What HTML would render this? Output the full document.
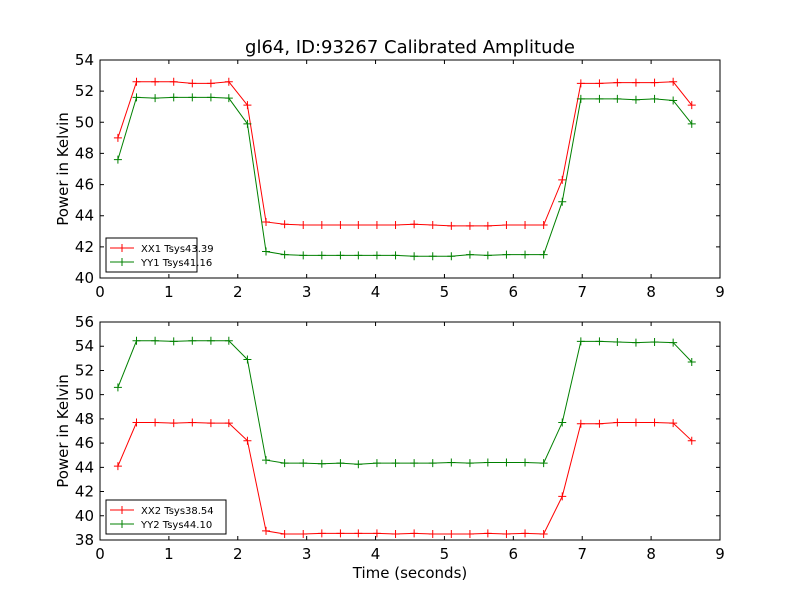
<!DOCTYPE html>
<html><head><meta charset="utf-8"><style>
body{margin:0;background:#fff}
svg text{font-family:"DejaVu Sans","Liberation Sans",sans-serif}
</style></head><body>
<svg id="c" width="800" height="600" xmlns="http://www.w3.org/2000/svg"></svg>
<script>
const times=[0.26,0.53,0.80,1.07,1.34,1.61,1.87,2.14,2.41,2.68,2.95,3.22,3.49,3.75,4.02,4.29,4.56,4.83,5.10,5.37,5.63,5.90,6.17,6.44,6.71,6.98,7.25,7.51,7.78,8.05,8.32,8.59];
const xx1=[49,52.6,52.6,52.6,52.5,52.5,52.6,51.1,43.6,43.45,43.4,43.4,43.4,43.4,43.4,43.4,43.45,43.4,43.35,43.35,43.35,43.4,43.4,43.4,46.3,52.5,52.5,52.55,52.55,52.55,52.6,51.1];
const yy1=[47.6,51.6,51.55,51.6,51.6,51.6,51.55,49.9,41.7,41.5,41.45,41.45,41.45,41.45,41.45,41.45,41.4,41.4,41.4,41.5,41.45,41.5,41.5,41.5,44.9,51.5,51.5,51.5,51.45,51.5,51.4,49.9];
const xx2=[44.1,47.7,47.7,47.65,47.7,47.65,47.65,46.2,38.75,38.5,38.5,38.55,38.55,38.55,38.55,38.5,38.55,38.5,38.5,38.5,38.55,38.5,38.55,38.5,41.6,47.6,47.6,47.7,47.7,47.7,47.65,46.2];
const yy2=[50.6,54.45,54.45,54.4,54.45,54.45,54.45,52.9,44.6,44.35,44.35,44.3,44.35,44.25,44.35,44.35,44.35,44.35,44.4,44.35,44.4,44.4,44.4,44.35,47.7,54.4,54.4,54.35,54.3,54.35,54.3,52.7];
const xTicks=[0,1,2,3,4,5,6,7,8,9];
const yTicksTop=[40,42,44,46,48,50,52,54];
const yTicksBot=[38,40,42,44,46,48,50,52,54,56];
const NS="http://www.w3.org/2000/svg";
const svg=document.getElementById('c');
function mk(t,a,p){const e=document.createElementNS(NS,t);for(const k in a)e.setAttribute(k,a[k]);(p||svg).appendChild(e);return e;}
function panel(name,top,bot,ymin,ymax,yt,series,legendW,xlabel){
  const L=100,R=720;
  const g=mk('g',{});
  
  
  const sx=v=>L+(v-0)/9*(R-L);
  const sy=v=>bot-(v-ymin)/(ymax-ymin)*(bot-top);
  series.forEach(s=>{
    const sg=mk('g',{},g);
    
    
    const pts=times.map((t,i)=>sx(t)+','+sy(s.v[i])).join(' ');
    mk('polyline',{points:pts,fill:'none',stroke:s.c,'stroke-width':1},sg);
    times.forEach((t,i)=>{const x=sx(t),y=sy(s.v[i]);
      mk('path',{d:`M${x-4},${y}H${x+4}M${x},${y-4}V${y+4}`,stroke:s.c,'stroke-width':1},sg);});
  });
  const fr=mk('rect',{x:L,y:top,width:R-L,height:bot-top,fill:'none',stroke:'#000','stroke-width':1},g);
  
  xTicks.forEach(t=>{const x=sx(t);
    mk('path',{d:`M${x},${bot}v-4M${x},${top}v4`,stroke:'#000'},g);
    const tx=mk('text',{x:x,y:bot+19,'font-size':15,'text-anchor':'middle'},g);tx.textContent=t;
    });
  yt.forEach(t=>{const y=sy(t);
    mk('path',{d:`M${L},${y}h4M${R},${y}h-4`,stroke:'#000'},g);
    const tx=mk('text',{x:L-6,y:y+5,'font-size':15,'text-anchor':'end'},g);tx.textContent=t;
    });
  const yl=mk('text',{x:0,y:0,'font-size':15,'text-anchor':'middle',transform:`translate(68,${(top+bot)/2}) rotate(-90)`},g);
  yl.textContent='Power in Kelvin';
  if(xlabel){const xl=mk('text',{x:(L+R)/2,y:bot+38,'font-size':15,'text-anchor':'middle'},g);xl.textContent=xlabel;
    }
  const lg=mk('g',{},g);
  const ly=bot-40;
  mk('rect',{x:106,y:ly,width:legendW,height:34,fill:'#fff',stroke:'#000'},lg);
  series.forEach((s,i)=>{const y=ly+10+i*14;
    const e=mk('g',{},lg);
    mk('path',{d:`M110,${y}h24M122,${y-4}v8`,stroke:s.c},e);
    const t=mk('text',{x:141,y:y+4,'font-size':10},e);t.textContent=s.label;});
}
const ti=mk('text',{x:410,y:53,'font-size':18,'text-anchor':'middle'});
ti.textContent='gl64, ID:93267 Calibrated Amplitude';

panel('top-panel',60,278,40,54,yTicksTop,[{v:xx1,c:'#ff0000',label:'XX1 Tsys43.39'},{v:yy1,c:'#008000',label:'YY1 Tsys41.16'}],91,null);
panel('bottom-panel',322,540,38,56,yTicksBot,[{v:xx2,c:'#ff0000',label:'XX2 Tsys38.54'},{v:yy2,c:'#008000',label:'YY2 Tsys44.10'}],120,'Time (seconds)');
</script>
</body></html>
